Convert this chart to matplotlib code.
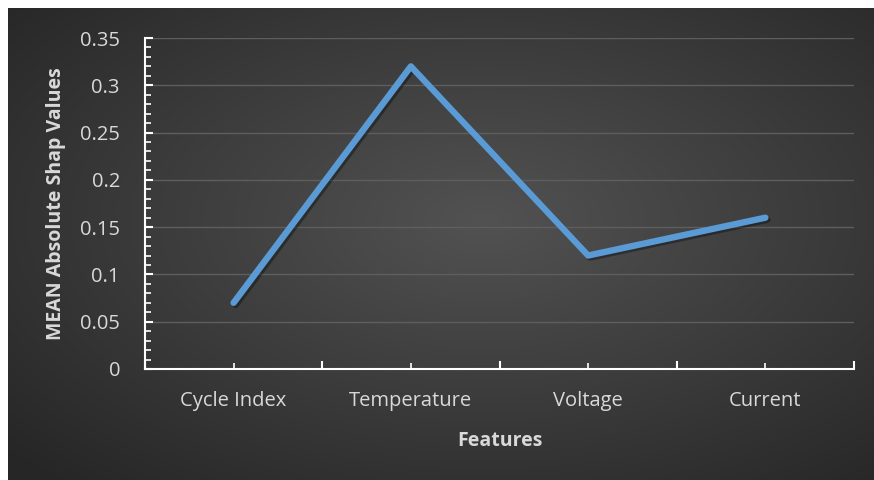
import numpy as np
import matplotlib
matplotlib.use("Agg")
import matplotlib.pyplot as plt
from matplotlib.ticker import MultipleLocator, FixedLocator, NullFormatter
import matplotlib.patheffects as pe

categories = ["Cycle Index", "Temperature", "Voltage", "Current"]
values = [0.07, 0.32, 0.12, 0.16]
y_ticks = [0, 0.05, 0.1, 0.15, 0.2, 0.25, 0.3, 0.35]
y_tick_labels = ["0", "0.05", "0.1", "0.15", "0.2", "0.25", "0.3", "0.35"]

plt.rcParams['font.family'] = ['Open Sans', 'DejaVu Sans']
W, H = 874, 480
fig = plt.figure(figsize=(W / 100, H / 100), dpi=100)
fig.patch.set_facecolor("white")

# radial gradient background
bg = fig.add_axes([8 / W, 0, (W - 8) / W, (H - 8) / H])
bg.set_axis_off()
nx, ny = 400, 220
xx, yy = np.meshgrid(np.linspace(0, 1, nx), np.linspace(0, 1, ny))
r = np.sqrt(((xx - 0.55) / 0.75) ** 2 + ((yy - 0.45) / 0.75) ** 2)
r = np.clip(r, 0, 1)
inner = np.array([0x52, 0x52, 0x52]) / 255
outer = np.array([0x26, 0x26, 0x26]) / 255
img = inner[None, None, :] * (1 - r[..., None]) + outer[None, None, :] * r[..., None]
bg.imshow(img, aspect="auto", extent=[0, 1, 0, 1], origin="upper", interpolation="bilinear")

left, right = 145 / W, 854 / W
bottom, top = 1 - 369 / H, 1 - 38 / H
ax = fig.add_axes([left, bottom, right - left, top - bottom])
ax.set_facecolor("none")

x = np.arange(len(categories))
ax.plot(x, values, color="#5B9BD5", lw=4.6, solid_capstyle="round", solid_joinstyle="round",
        zorder=3,
        path_effects=[pe.SimpleLineShadow(offset=(1.5, -1.5), shadow_color="black", alpha=0.35),
                      pe.Normal()])

ax.set_xlim(-0.5, len(categories) - 0.5)
ax.set_ylim(0, 0.35)

ax.yaxis.set_major_locator(FixedLocator(y_ticks))
ax.set_yticklabels(y_tick_labels)
ax.yaxis.set_minor_locator(MultipleLocator(0.01))

ax.xaxis.set_major_locator(FixedLocator(np.arange(-0.5, len(categories), 1.0)))
ax.xaxis.set_major_formatter(NullFormatter())
ax.xaxis.set_minor_locator(FixedLocator(x))
ax.xaxis.set_minor_formatter(matplotlib.ticker.FixedFormatter(categories))

for s in ["top", "right"]:
    ax.spines[s].set_visible(False)
for s in ["left", "bottom"]:
    ax.spines[s].set_color("white")
    ax.spines[s].set_linewidth(1.5)

ax.grid(axis="y", which="major", color="#5e5e5e", lw=1.0)
ax.set_axisbelow(True)

ax.tick_params(axis="y", which="major", direction="in", length=6, width=1.5, color="white",
               labelcolor="#d9d9d9", labelsize=14.5, pad=18)
ax.tick_params(axis="y", which="minor", direction="in", length=4, width=1.2, color="white")
ax.tick_params(axis="x", which="major", direction="in", length=6, width=1.5, color="white")
ax.tick_params(axis="x", which="minor", direction="in", length=4, width=1.2, color="white",
               labelcolor="#d9d9d9", labelsize=14.5, pad=16)

ax.set_xlabel("Features", color="#d9d9d9", fontsize=14, fontweight="bold", labelpad=14)
ax.set_ylabel("MEAN Absolute Shap Values", color="#d9d9d9", fontsize=14, fontweight="bold", labelpad=10)

fig.savefig("out.png", dpi=100, facecolor=fig.get_facecolor())
